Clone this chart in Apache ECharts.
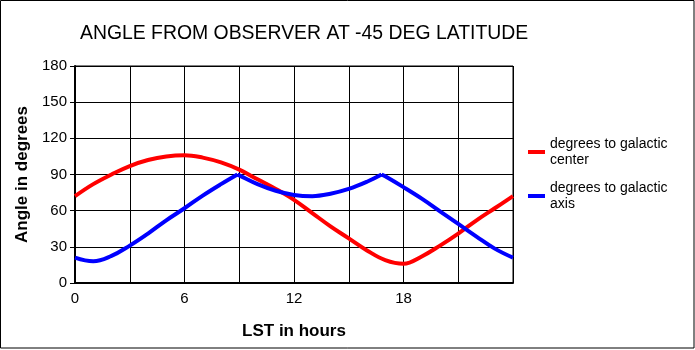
<!DOCTYPE html>
<html>
<head>
<meta charset="utf-8">
<script src="https://cdn.jsdelivr.net/npm/echarts@6/dist/echarts.min.js"></script>
<style>
html,body{margin:0;padding:0;background:#fff;}
#chart{width:695px;height:350px;}
</style>
</head>
<body>
<div id="chart"></div>
<script>
const titleText = 'ANGLE FROM OBSERVER AT -45 DEG LATITUDE';
const xName = 'LST in hours';
const yName = 'Angle in degrees';
const centerName = 'degrees to galactic center';
const axisName = 'degrees to galactic axis';

const centerHours = [0,1,2,3,4,5,6,7,8,9,10,11,12,13,14,15,16,17,18,19,20,21,22,23,24];
const centerDeg   = [72,82,90,97,102,105,106,104,100,94,86,78,69,58,47,37,27,19,16,22,31,41,52,62,72];

const axisHours = [0,1,2,3,4,5,6,7,8,8.9,9,10,11,12,13,14,15,16,16.8,17,18,19,20,21,22,23,24];
const axisDeg   = [21,18,22.5,31,41,52,62,72.5,82,90,89.3,82,76.5,73,72,74,78,84,90,88.5,79.5,70,59.5,49,38.5,28.5,21];

const xTicks = [0,6,12,18];

function pairs(xs, ys){ return xs.map((x,i)=>[x,ys[i]]); }

// split blue curve at its sharp peaks (where value reaches 90) so smoothing keeps kinks
const axisPts = pairs(axisHours, axisDeg);
const axisSegments = [];
let cur = [];
axisPts.forEach((p, i) => {
  cur.push(p);
  if (p[1] === 90 && i > 0 && i < axisPts.length - 1) {
    axisSegments.push(cur);
    cur = [p];
  }
});
axisSegments.push(cur);

const chart = echarts.init(document.getElementById('chart'), null, {renderer:'canvas'});
const font = 'Liberation Sans, Arial, sans-serif';

const series = [{
  name: centerName,
  type: 'line',
  data: pairs(centerHours, centerDeg),
  smooth: 0.4,
  symbol: 'none',
  lineStyle: {color:'#ff0000', width:4},
  itemStyle: {color:'#ff0000'},
  z: 3
}];
axisSegments.forEach(seg => series.push({
  name: axisName,
  type: 'line',
  data: seg,
  smooth: 0.4,
  symbol: 'none',
  lineStyle: {color:'#0000ff', width:4},
  itemStyle: {color:'#0000ff'},
  z: 4
}));

chart.setOption({
  animation: false,
  backgroundColor: '#fff',
  title: {
    text: titleText,
    left: 75, top: 19,
    textStyle: {fontFamily: font, fontSize: 19.4, fontWeight: 'normal', color: '#000'}
  },
  legend: {
    orient: 'vertical',
    left: 523, top: 131,
    icon: 'rect',
    itemWidth: 17, itemHeight: 4,
    itemGap: 12,
    data: [centerName, axisName],
    formatter: n => n.replace('galactic ', 'galactic\n'),
    textStyle: {fontFamily: font, fontSize: 14, color: '#000', lineHeight: 16}
  },
  grid: {left: 75, top: 66, right: 182, bottom: 67, show: true, borderColor: '#000', borderWidth: 1},
  xAxis: {
    type: 'value', min: 0, max: 24, interval: 3,
    name: xName, nameLocation: 'middle', nameGap: 40,
    nameTextStyle: {fontFamily: font, fontSize: 17, fontWeight: 'bold', color: '#000'},
    axisLine: {show: true, lineStyle: {color: '#000', width: 2}},
    axisTick: {show: false},
    splitLine: {show: true, lineStyle: {color: '#000', width: 1}},
    axisLabel: {
      fontFamily: font, fontSize: 15, color: '#000', margin: 8,
      formatter: v => xTicks.includes(v) ? String(v) : ''
    }
  },
  yAxis: {
    type: 'value', min: 0, max: 180, interval: 30,
    name: yName, nameLocation: 'middle', nameGap: 40, nameRotate: 90,
    nameTextStyle: {fontFamily: font, fontSize: 17, fontWeight: 'bold', color: '#000'},
    axisLine: {show: true, lineStyle: {color: '#000', width: 2}},
    axisTick: {show: true, length: 5, lineStyle: {color: '#000'}},
    splitLine: {show: true, lineStyle: {color: '#000', width: 1}},
    axisLabel: {fontFamily: font, fontSize: 15, color: '#000', margin: 8}
  },
  graphic: [{
    type: 'rect', silent: true, z: 100,
    shape: {x: 0.5, y: 0.5, width: 693.5, height: 347.5},
    style: {fill: 'none', stroke: '#000', lineWidth: 1}
  }],
  series: series
});
</script>
</body>
</html>
